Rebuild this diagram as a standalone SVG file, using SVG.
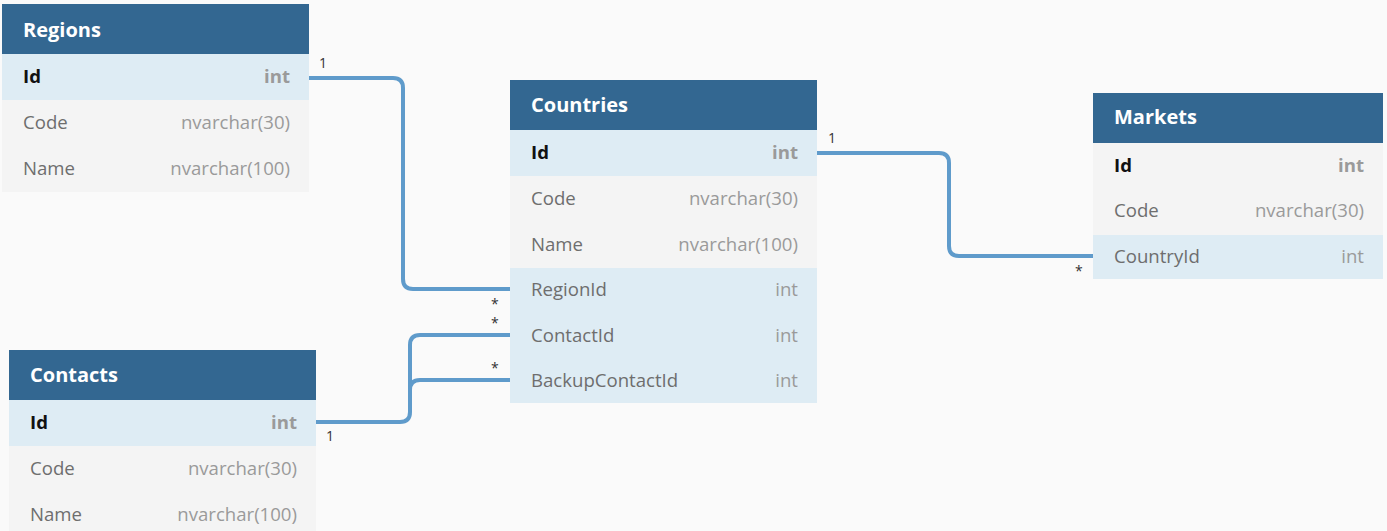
<svg xmlns="http://www.w3.org/2000/svg" width="1387" height="531" viewBox="0 0 1387 531">
<style>
.hd{fill:#336791}
.pk{fill:#deecf4}
.rw{fill:#f4f4f4}
.fk{fill:#deecf4}
.ht{font-family:"Open Sans","Liberation Sans",sans-serif;font-size:20px;font-weight:bold;fill:#ffffff}
.fn{font-family:"Open Sans","Liberation Sans",sans-serif;font-size:18.6px;fill:#6e6e6e}
.fb{font-family:"Open Sans","Liberation Sans",sans-serif;font-size:18.6px;font-weight:bold;fill:#111111}
.ty{font-family:"Open Sans","Liberation Sans",sans-serif;font-size:18.6px;fill:#9a9a9a;text-anchor:end}
.tb{font-family:"Open Sans","Liberation Sans",sans-serif;font-size:18.6px;font-weight:bold;fill:#9a9a9a;text-anchor:end}
.ln{fill:none;stroke:#5f9bcb;stroke-width:4}
.lb{font-family:"Open Sans","Liberation Sans",sans-serif;font-size:14px;fill:#333333}
</style>
<rect width="1387" height="531" fill="#fafafa"/>
<g id="connectors">
<path class="ln" d="M309,78 H393 Q403,78 403,88 V279 Q403,289 413,289 H510"/>
<path class="ln" d="M817,153 H939 Q949,153 949,163 V246 Q949,256 959,256 H1093"/>
<path class="ln" d="M316,422 H400 Q410,422 410,412 V345 Q410,335 420,335 H510"/>
<path class="ln" d="M410,390 Q410,380 420,380 H510"/>
<text class="lb" x="319" y="68">1</text>
<text class="lb" x="491" y="309">*</text>
<text class="lb" x="828" y="143">1</text>
<text class="lb" x="1075" y="276">*</text>
<text class="lb" x="326" y="441">1</text>
<text class="lb" x="491" y="328">*</text>
<text class="lb" x="491" y="373">*</text>
</g>
<g id="Regions">
<rect class="hd" x="2" y="4" width="307" height="50"/>
<rect class="pk" x="2" y="54" width="307" height="46"/>
<rect class="rw" x="2" y="100" width="307" height="92"/>
<text class="ht" x="23" y="37">Regions</text>
<text class="fb" x="23" y="83">Id</text><text class="tb" x="290" y="83">int</text>
<text class="fn" x="23" y="129">Code</text><text class="ty" x="290" y="129">nvarchar(30)</text>
<text class="fn" x="23" y="175">Name</text><text class="ty" x="290" y="175">nvarchar(100)</text>
</g>
<g id="Countries">
<rect class="hd" x="510" y="80" width="307" height="50"/>
<rect class="pk" x="510" y="130" width="307" height="46"/>
<rect class="rw" x="510" y="176" width="307" height="92"/>
<rect class="fk" x="510" y="268" width="307" height="135"/>
<text class="ht" x="531" y="112">Countries</text>
<text class="fb" x="531" y="159">Id</text><text class="tb" x="798" y="159">int</text>
<text class="fn" x="531" y="205">Code</text><text class="ty" x="798" y="205">nvarchar(30)</text>
<text class="fn" x="531" y="251">Name</text><text class="ty" x="798" y="251">nvarchar(100)</text>
<text class="fn" x="531" y="296">RegionId</text><text class="ty" x="798" y="296">int</text>
<text class="fn" x="531" y="342">ContactId</text><text class="ty" x="798" y="342">int</text>
<text class="fn" x="531" y="387">BackupContactId</text><text class="ty" x="798" y="387">int</text>
</g>
<g id="Markets">
<rect class="hd" x="1093" y="93" width="290" height="50"/>
<rect class="rw" x="1093" y="143" width="290" height="92"/>
<rect class="fk" x="1093" y="235" width="290" height="44"/>
<text class="ht" x="1114" y="124">Markets</text>
<text class="fb" x="1114" y="172">Id</text><text class="tb" x="1364" y="172">int</text>
<text class="fn" x="1114" y="217">Code</text><text class="ty" x="1364" y="217">nvarchar(30)</text>
<text class="fn" x="1114" y="263">CountryId</text><text class="ty" x="1364" y="263">int</text>
</g>
<g id="Contacts">
<rect class="hd" x="9" y="350" width="307" height="50"/>
<rect class="pk" x="9" y="400" width="307" height="46"/>
<rect class="rw" x="9" y="446" width="307" height="85"/>
<text class="ht" x="30" y="382">Contacts</text>
<text class="fb" x="30" y="429">Id</text><text class="tb" x="297" y="429">int</text>
<text class="fn" x="30" y="475">Code</text><text class="ty" x="297" y="475">nvarchar(30)</text>
<text class="fn" x="30" y="521">Name</text><text class="ty" x="297" y="521">nvarchar(100)</text>
</g>
</svg>
